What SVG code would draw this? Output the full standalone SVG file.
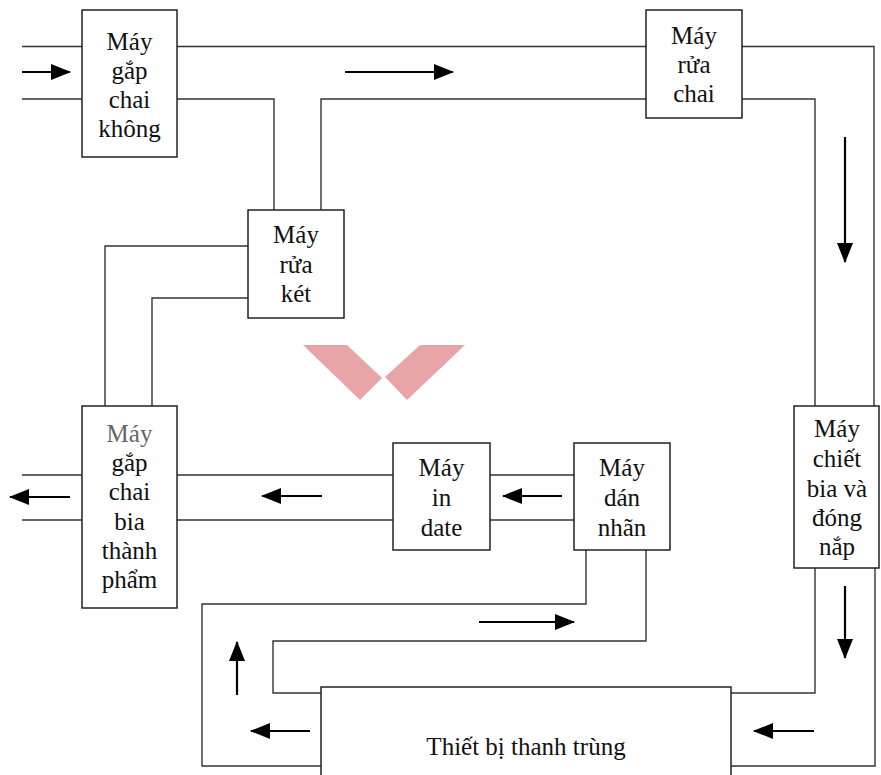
<svg xmlns="http://www.w3.org/2000/svg" width="881" height="775" viewBox="0 0 881 775">
<style>
.box{fill:#fff;stroke:#222;stroke-width:1.5}
.ln{fill:none;stroke:#333;stroke-width:1.4}
.ar{fill:none;stroke:#000;stroke-width:2.2;marker-end:url(#ah)}
</style>
<defs>
<marker id="ah" markerUnits="userSpaceOnUse" markerWidth="20" markerHeight="16" refX="19" refY="8" orient="auto">
<path d="M0,0 L20,8 L0,16 z" fill="#000"/>
</marker>
</defs>
<rect width="881" height="775" fill="#fff"/>
<g id="watermark" fill="#e8a5a8">
<polygon points="303,345 347,345 382,378 360,400"/>
<polygon points="420,345 465,345 407,400 385,377"/>
</g>
<g id="connectors">
<path class="ln" d="M22,46.5 H82 M22,99 H82"/>
<path class="ln" d="M177,46.5 H646 M177,99 H274 V210 M321,210 V99 H646"/>
<path class="ln" d="M742,46.5 H874 V406 M742,99 H815 V406"/>
<path class="ln" d="M248,246 H105 V406 M248,298 H152 V406"/>
<path class="ln" d="M22,475 H82 M22,520 H82"/>
<path class="ln" d="M177,475 H393 M177,520 H393"/>
<path class="ln" d="M490,475 H574 M490,520 H574"/>
<path class="ln" d="M586,550 V604 H202 V766 H321 M646,550 V641 H273 V693 H321"/>
<path class="ln" d="M815,568 V693 H731 M875,568 V766 H731"/>
<line class="ar" x1="22" y1="72" x2="70" y2="72"/>
<line class="ar" x1="345" y1="72" x2="453" y2="72"/>
<line class="ar" x1="845" y1="137" x2="845" y2="262"/>
<line class="ar" x1="845" y1="586" x2="845" y2="658"/>
<line class="ar" x1="814" y1="731" x2="754" y2="731"/>
<line class="ar" x1="310" y1="731" x2="251" y2="731"/>
<line class="ar" x1="237" y1="695" x2="237" y2="642"/>
<line class="ar" x1="479" y1="622" x2="574" y2="622"/>
<line class="ar" x1="562" y1="496" x2="503" y2="496"/>
<line class="ar" x1="322" y1="496" x2="262" y2="496"/>
<line class="ar" x1="70" y1="497" x2="10" y2="497"/>
</g>
<g id="may-gap-chai-khong">
<rect class="box" x="82" y="10" width="95" height="147"/>
<text style="font-family:'Liberation Serif',serif !important;font-size:25px;fill:#111;text-anchor:middle" x="129.5" y="50">Máy</text>
<text style="font-family:'Liberation Serif',serif !important;font-size:25px;fill:#111;text-anchor:middle" x="129.5" y="79">gắp</text>
<text style="font-family:'Liberation Serif',serif !important;font-size:25px;fill:#111;text-anchor:middle" x="129.5" y="108">chai</text>
<text style="font-family:'Liberation Serif',serif !important;font-size:25px;fill:#111;text-anchor:middle" x="129.5" y="137">không</text>
</g>
<g id="may-rua-chai">
<rect class="box" x="646" y="10" width="96" height="108"/>
<text style="font-family:'Liberation Serif',serif !important;font-size:25px;fill:#111;text-anchor:middle" x="694" y="44">Máy</text>
<text style="font-family:'Liberation Serif',serif !important;font-size:25px;fill:#111;text-anchor:middle" x="694" y="73">rửa</text>
<text style="font-family:'Liberation Serif',serif !important;font-size:25px;fill:#111;text-anchor:middle" x="694" y="102">chai</text>
</g>
<g id="may-rua-ket">
<rect class="box" x="248" y="210" width="96" height="108"/>
<text style="font-family:'Liberation Serif',serif !important;font-size:25px;fill:#111;text-anchor:middle" x="296" y="243">Máy</text>
<text style="font-family:'Liberation Serif',serif !important;font-size:25px;fill:#111;text-anchor:middle" x="296" y="273">rửa</text>
<text style="font-family:'Liberation Serif',serif !important;font-size:25px;fill:#111;text-anchor:middle" x="296" y="302">két</text>
</g>
<g id="may-gap-chai-bia-thanh-pham">
<rect class="box" x="82" y="406" width="95" height="202"/>
<text style="font-family:'Liberation Serif',serif !important;font-size:25px;fill:#666;text-anchor:middle" x="129.5" y="442">Máy</text>
<text style="font-family:'Liberation Serif',serif !important;font-size:25px;fill:#111;text-anchor:middle" x="129.5" y="471">gắp</text>
<text style="font-family:'Liberation Serif',serif !important;font-size:25px;fill:#111;text-anchor:middle" x="129.5" y="500">chai</text>
<text style="font-family:'Liberation Serif',serif !important;font-size:25px;fill:#111;text-anchor:middle" x="129.5" y="530">bia</text>
<text style="font-family:'Liberation Serif',serif !important;font-size:25px;fill:#111;text-anchor:middle" x="129.5" y="559">thành</text>
<text style="font-family:'Liberation Serif',serif !important;font-size:25px;fill:#111;text-anchor:middle" x="129.5" y="588">phẩm</text>
</g>
<g id="may-in-date">
<rect class="box" x="393" y="443" width="97" height="107"/>
<text style="font-family:'Liberation Serif',serif !important;font-size:25px;fill:#111;text-anchor:middle" x="441.5" y="476">Máy</text>
<text style="font-family:'Liberation Serif',serif !important;font-size:25px;fill:#111;text-anchor:middle" x="441.5" y="506">in</text>
<text style="font-family:'Liberation Serif',serif !important;font-size:25px;fill:#111;text-anchor:middle" x="441.5" y="536">date</text>
</g>
<g id="may-dan-nhan">
<rect class="box" x="574" y="443" width="96" height="107"/>
<text style="font-family:'Liberation Serif',serif !important;font-size:25px;fill:#111;text-anchor:middle" x="622" y="476">Máy</text>
<text style="font-family:'Liberation Serif',serif !important;font-size:25px;fill:#111;text-anchor:middle" x="622" y="506">dán</text>
<text style="font-family:'Liberation Serif',serif !important;font-size:25px;fill:#111;text-anchor:middle" x="622" y="536">nhãn</text>
</g>
<g id="may-chiet-bia-va-dong-nap">
<rect class="box" x="794" y="406" width="85" height="162"/>
<text style="font-family:'Liberation Serif',serif !important;font-size:25px;fill:#111;text-anchor:middle" x="837" y="437">Máy</text>
<text style="font-family:'Liberation Serif',serif !important;font-size:25px;fill:#111;text-anchor:middle" x="837" y="467">chiết</text>
<text style="font-family:'Liberation Serif',serif !important;font-size:25px;fill:#111;text-anchor:middle" x="837" y="497">bia và</text>
<text style="font-family:'Liberation Serif',serif !important;font-size:25px;fill:#111;text-anchor:middle" x="837" y="526">đóng</text>
<text style="font-family:'Liberation Serif',serif !important;font-size:25px;fill:#111;text-anchor:middle" x="837" y="555">nắp</text>
</g>
<g id="thiet-bi-thanh-trung">
<rect class="box" x="321" y="687" width="410" height="100"/>
<text style="font-family:'Liberation Serif',serif !important;font-size:25px;fill:#111;text-anchor:middle" x="526" y="755">Thiết bị thanh trùng</text>
</g>
</svg>
